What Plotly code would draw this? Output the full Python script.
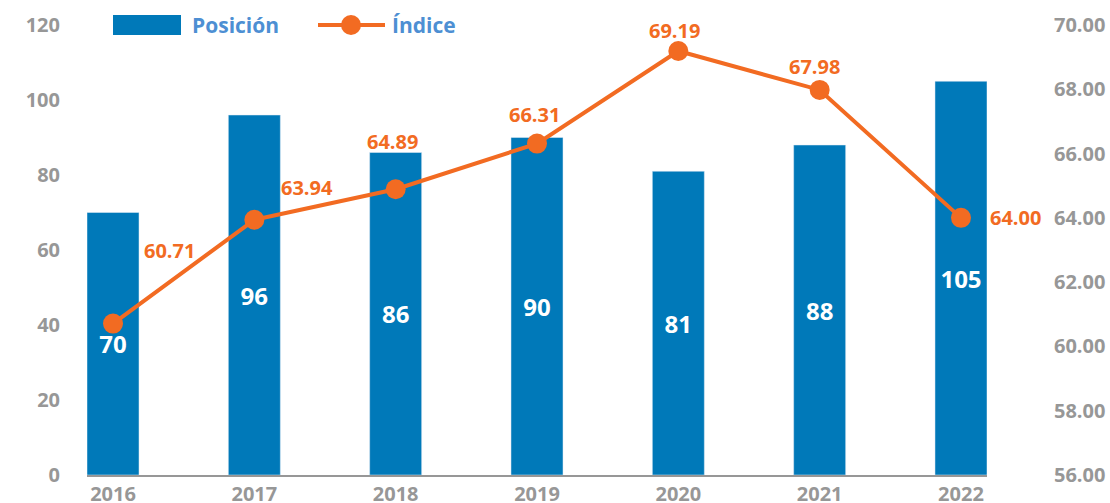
import plotly.graph_objects as go

years = ["2016", "2017", "2018", "2019", "2020", "2021", "2022"]
posicion = [70, 96, 86, 90, 81, 88, 105]
indice = [60.71, 63.94, 64.89, 66.31, 69.19, 67.98, 64.00]
indice_labels = ["60.71", "63.94", "64.89", "66.31", "69.19", "67.98", "64.00"]
left_ticks = [0, 20, 40, 60, 80, 100, 120]
right_ticks = [56, 58, 60, 62, 64, 66, 68, 70]

BLUE = "#0079b9"
ORANGE = "#f26b22"
GRAY = "#979797"
LEG = "#4d8fd3"
FONT = "Open Sans"

# label offsets (px) for the index labels
label_dx = [56, 53, -3, -3, -4, -5, 55]
label_dy = [73, 32, 48, 29, 21, 23, 0]

fig = go.Figure()
fig.add_trace(go.Bar(
    x=years, y=posicion, name="Posición", marker_color=BLUE, width=0.368,
    text=[str(v) for v in posicion], textposition="inside", insidetextanchor="middle",
    textangle=0, textfont=dict(color="white", size=24, family=FONT, weight="bold"),
    showlegend=False,
))
fig.add_trace(go.Scatter(
    x=years, y=indice, name="Índice", yaxis="y2", mode="lines+markers",
    line=dict(color=ORANGE, width=4), marker=dict(color=ORANGE, size=20),
    showlegend=False,
))

for i, (v, t, dx, dy) in enumerate(zip(indice, indice_labels, label_dx, label_dy)):
    fig.add_annotation(x=i, y=v, xref="x", yref="y2", text=t, showarrow=False,
                       xshift=dx, yshift=dy,
                       font=dict(color=ORANGE, size=20, family=FONT, weight="bold"))

# custom legend
L, R, T, B = 87, 987, 25, 475
def px(x):
    return (x - L) / (R - L)
def py(y):
    return (B - y) / (B - T)

fig.add_shape(type="rect", xref="paper", yref="paper", x0=px(113), x1=px(181),
              y0=py(35), y1=py(15), fillcolor=BLUE, line_width=0)
fig.add_annotation(xref="paper", yref="paper", x=px(190), y=py(25), text="Posición",
                   showarrow=False, xanchor="left", yanchor="middle",
                   font=dict(color=LEG, size=21, family=FONT, weight="bold"))
fig.add_shape(type="line", xref="paper", yref="paper", x0=px(318), x1=px(385),
              y0=py(25), y1=py(25), line=dict(color=ORANGE, width=4))
fig.add_shape(type="circle", xref="paper", yref="paper", x0=px(341), x1=px(361),
              y0=py(35), y1=py(15), fillcolor=ORANGE, line_width=0)
fig.add_annotation(xref="paper", yref="paper", x=px(390), y=py(25), text="Índice",
                   showarrow=False, xanchor="left", yanchor="middle",
                   font=dict(color=LEG, size=21, family=FONT, weight="bold"))

tickfont = dict(color=GRAY, size=20, family=FONT, weight="bold")
fig.update_layout(
    width=1110, height=503,
    margin=dict(l=L, r=1110 - R, t=T, b=503 - B),
    paper_bgcolor="white", plot_bgcolor="white",
    xaxis=dict(type="category", range=[-0.184, 6.184], showgrid=False,
               showline=True, linecolor=GRAY, linewidth=2, ticks="",
               tickfont=tickfont, ticklabelstandoff=0, automargin=False),
    yaxis=dict(range=[0, 120], tickvals=left_ticks, showgrid=False, zeroline=False,
               showline=False, ticks="", tickfont=tickfont, ticklabelstandoff=26,
               automargin=False),
    yaxis2=dict(range=[56, 70], tickvals=right_ticks, tickformat=".2f",
                overlaying="y", side="right", showgrid=False, zeroline=False,
                showline=False, ticks="", tickfont=tickfont, ticklabelstandoff=66,
                automargin=False),
    showlegend=False,
)

fig.write_html("out.html", config={"displayModeBar": False},
               post_script="document.body.style.margin='0px';"
                           "document.body.style.overflow='hidden';")
